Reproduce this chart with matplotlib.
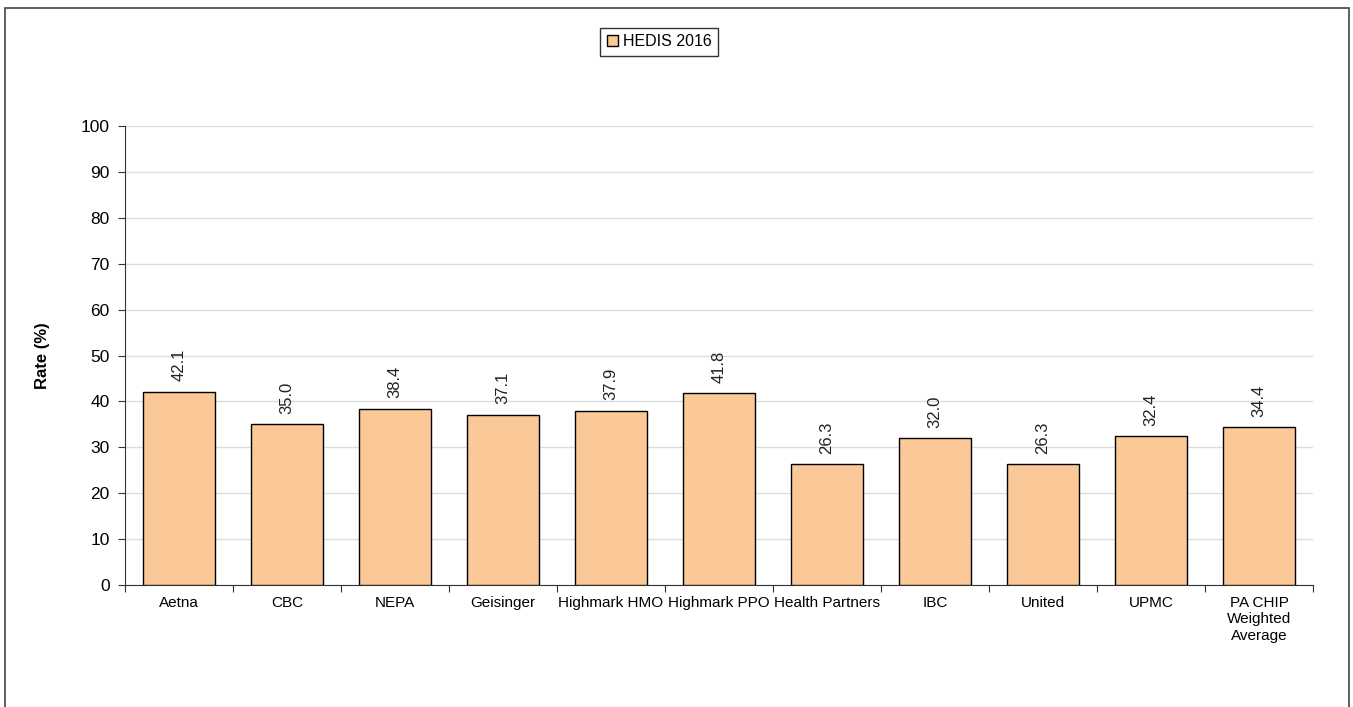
import matplotlib
matplotlib.use("Agg")
import matplotlib.pyplot as plt
from matplotlib.patches import Rectangle

categories = ["Aetna", "CBC", "NEPA", "Geisinger", "Highmark HMO", "Highmark PPO",
              "Health Partners", "IBC", "United", "UPMC", "PA CHIP\nWeighted\nAverage"]
values = [42.1, 35.0, 38.4, 37.1, 37.9, 41.8, 26.3, 32.0, 26.3, 32.4, 34.4]
series_name = "HEDIS 2016"
yticks = list(range(0, 101, 10))

plt.rcParams['font.family'] = ['Liberation Sans', 'DejaVu Sans']

fig = plt.figure(figsize=(13.53, 7.07), dpi=100)
ax = fig.add_axes([125/1353, 1-585/707, (1313-125)/1353, (585-126)/707])

x = list(range(len(categories)))
bars = ax.bar(x, values, width=0.67, color="#FBC997", edgecolor="black", linewidth=1.0,
              label=series_name, zorder=3)
for xi, v in zip(x, values):
    ax.text(xi, v + 2.3, f"{v:.1f}", rotation=90, ha="center", va="bottom",
            fontsize=12, color="#222222")

ax.set_xlim(-0.5, len(categories) - 0.5)
ax.set_ylim(0, 100)
ax.set_yticks(yticks)
ax.set_yticklabels([str(t) for t in yticks], fontsize=12.5)
ax.set_xticks([i - 0.5 for i in range(len(categories) + 1)], minor=False)
ax.set_xticklabels([])
ax.set_xticks(x, minor=True)
ax.set_xticklabels(categories, minor=True, fontsize=11)
ax.tick_params(axis="x", which="minor", length=0, pad=8)
ax.tick_params(axis="x", which="major", length=5, direction="out", color="#333333")
ax.tick_params(axis="y", length=5, direction="out", color="#333333", pad=6)
ax.grid(axis="y", color="#dddddd", linewidth=1, zorder=0)
for s in ["top", "right"]:
    ax.spines[s].set_visible(False)
for s in ["left", "bottom"]:
    ax.spines[s].set_color("#333333")
ax.set_ylabel("Rate (%)", fontsize=12, fontweight="bold", labelpad=22)

leg = ax.legend(loc="upper center", bbox_to_anchor=(659/1353, 1-20/707),
                bbox_transform=fig.transFigure, frameon=True, fancybox=False,
                edgecolor="black", fontsize=11.5, handlelength=0.7, handleheight=0.7,
                handletextpad=0.3, borderpad=0.4)
leg.get_frame().set_linewidth(1)

fig.patches.append(Rectangle((5/1353, -0.01), (1349-5)/1353, 1.01 - 8/707,
                             transform=fig.transFigure, fill=False,
                             edgecolor="#444444", linewidth=1.2))

fig.savefig("out.png", dpi=100)
